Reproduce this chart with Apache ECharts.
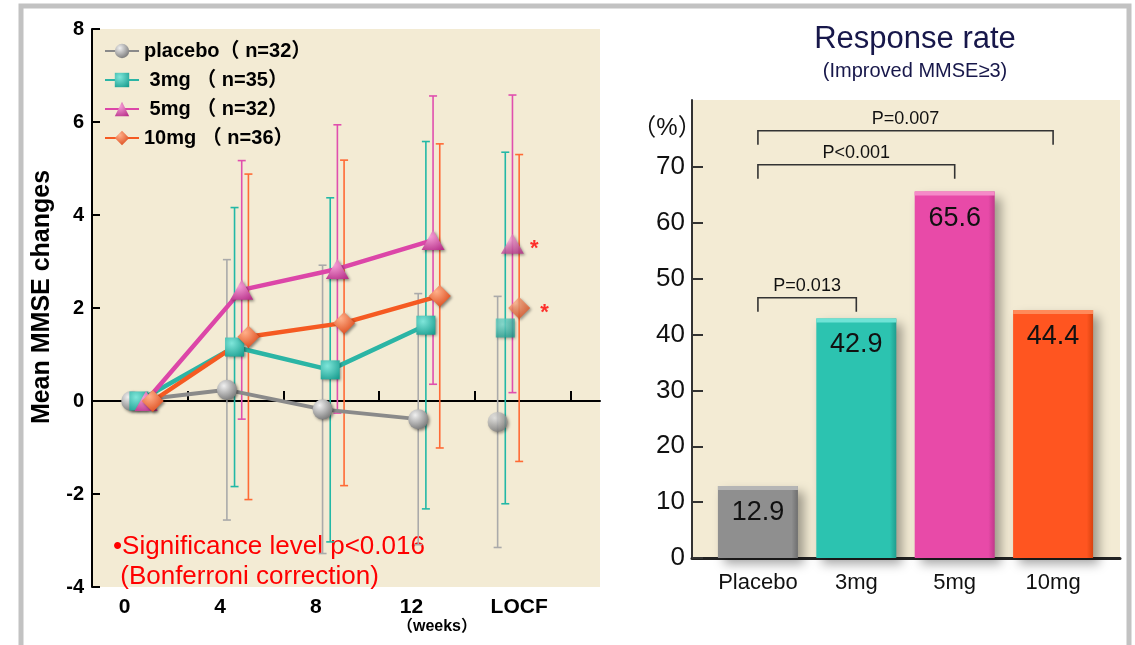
<!DOCTYPE html>
<html>
<head>
<meta charset="utf-8">
<script src="https://cdn.jsdelivr.net/npm/echarts@6/dist/echarts.min.js"></script>
<style>
  html, body { margin: 0; padding: 0; background: #fff; }
  #chart { width: 1135px; height: 645px; }
</style>
</head>
<body>
<div id="chart"></div>
<script>
// ---------- DATA ----------
const weeks = ['0', '4', '8', '12', 'LOCF'];
const groupNames = ['placebo（ n=32）', ' 3mg （ n=35）', ' 5mg （ n=32）', '10mg （ n=36）'];
const placeboMean = [0, 0.24, -0.18, -0.39, -0.45];
const placeboSD   = [0, 2.8, 3.1, 2.7, 2.7];
const mg3Mean  = [0, 1.16, 0.67, 1.63, 1.57];
const mg3SD    = [0, 3.0, 3.7, 3.95, 3.78];
const mg5Mean  = [0, 2.39, 2.84, 3.46, 3.38];
const mg5SD    = [0, 2.78, 3.1, 3.1, 3.2];
const mg10Mean = [0, 1.38, 1.68, 2.26, 2.0];
const mg10SD   = [0, 3.5, 3.5, 3.27, 3.3];
const locfSignificant = [false, false, true, true];

const respCats = ['Placebo', '3mg', '5mg', '10mg'];
const respRate = [12.9, 42.9, 65.6, 44.4];
const respTicks = [0, 10, 20, 30, 40, 50, 60, 70];
const compFrom  = [0, 0, 0];
const compTo    = [1, 2, 3];
const compLabel = ['P=0.013', 'P<0.001', 'P=0.007'];
const compLevel = [46.6, 70.4, 76.5];

// ---------- STYLE / LAYOUT ----------
const FONT = 'Arial, "Liberation Sans", "Noto Sans CJK SC", sans-serif';
const means = [placeboMean, mg3Mean, mg5Mean, mg10Mean];
const sds = [placeboSD, mg3SD, mg5SD, mg10SD];
const dodge = [0.41, 0.49, 0.565, 0.635];
const locfShift = -0.17;
const labelShift = 0.34;
const lineColors = ['#8a8a8a', '#2bb5a5', '#dc46a8', '#f55a22'];
const errColors = ['#aaaaaa', '#22b8a6', '#e04fae', '#ff6a35'];
const symbols = ['circle', 'rect', 'triangle', 'diamond'];
const symbolSizes = [20, 19, [23, 20], 22];
const gradStops = [
  ['#f0f0f0', '#6a6a6a'],
  ['#7fe6da', '#1a9e90'],
  ['#f6a0d6', '#b8308a'],
  ['#ffb08a', '#d94010']
];
const barColors = ['#8f8f8f', '#2cc3b0', '#e84aa8', '#ff5520'];
const barDark = ['#6f6f6f', '#1f9d8e', '#c0388a', '#d8430f'];
const barLight = ['#b5b5b5', '#6fe3d6', '#f58ac8', '#ff8a5a'];

function markerColor(g) {
  return new echarts.graphic.RadialGradient(0.35, 0.3, 0.85, [
    { offset: 0, color: gradStops[g][0] },
    { offset: 1, color: gradStops[g][1] }
  ]);
}

const series = [];
for (let g = 0; g < 4; g++) {
  const errData = [];
  for (let i = 0; i < weeks.length; i++) {
    if (sds[g][i] > 0) {
      const x = i + dodge[g] + (i === weeks.length - 1 ? locfShift : 0);
      errData.push([x, means[g][i] - sds[g][i], means[g][i] + sds[g][i]]);
    }
  }
  series.push({
    type: 'custom', xAxisIndex: 0, yAxisIndex: 0, z: 1, clip: true,
    silent: true,
    data: errData,
    encode: { x: 0, y: [1, 2] },
    renderItem: (function (col) {
      return function (params, api) {
        const x = api.value(0);
        const top = api.coord([x, api.value(2)]);
        const bot = api.coord([x, api.value(1)]);
        const cw = 4;
        const st = { stroke: col, lineWidth: 1.6 };
        return {
          type: 'group',
          children: [
            { type: 'line', shape: { x1: top[0], y1: top[1], x2: bot[0], y2: bot[1] }, style: st },
            { type: 'line', shape: { x1: top[0] - cw, y1: top[1], x2: top[0] + cw, y2: top[1] }, style: st },
            { type: 'line', shape: { x1: bot[0] - cw, y1: bot[1], x2: bot[0] + cw, y2: bot[1] }, style: st }
          ]
        };
      };
    })(errColors[g])
  });
  const itemStyle = {
    color: markerColor(g),
    shadowBlur: 3, shadowColor: 'rgba(0,0,0,0.45)', shadowOffsetX: 1.5, shadowOffsetY: 1.5
  };
  series.push({
    name: groupNames[g], type: 'line', xAxisIndex: 0, yAxisIndex: 0, z: 3,
    data: means[g].slice(0, weeks.length - 1).map((m, i) => [i + dodge[g], m]),
    symbol: symbols[g], symbolSize: symbolSizes[g],
    lineStyle: { color: lineColors[g], width: g === 0 ? 4 : 4.5 },
    itemStyle: itemStyle,
    silent: true
  });
  const li = weeks.length - 1;
  series.push({
    name: groupNames[g], type: 'scatter', xAxisIndex: 0, yAxisIndex: 0, z: 3,
    data: [[li + dodge[g] + locfShift, means[g][li]]],
    symbol: symbols[g], symbolSize: symbolSizes[g],
    itemStyle: itemStyle,
    silent: true,
    label: {
      show: locfSignificant[g], position: 'right', distance: g === 3 ? 10 : 6,
      formatter: '*', color: '#ff0000', fontSize: 22, fontWeight: 'bold',
      fontFamily: FONT, offset: [0, 5]
    }
  });
}

series.push({
  type: 'bar', xAxisIndex: 2, yAxisIndex: 1, barWidth: 80, z: 2, silent: true,
  data: respRate.map((v, i) => ({
    value: [i, v],
    itemStyle: {
      color: new echarts.graphic.LinearGradient(0, 0, 1, 0, [
        { offset: 0, color: barColors[i] },
        { offset: 0.92, color: barColors[i] },
        { offset: 1, color: barDark[i] }
      ]),
      shadowBlur: 10, shadowColor: 'rgba(0,0,0,0.35)', shadowOffsetX: 6, shadowOffsetY: 6
    }
  })),
  label: {
    show: true, position: 'insideTop', distance: 13,
    formatter: p => p.value[1].toFixed(1),
    fontFamily: FONT, fontSize: 27, color: '#111'
  }
});
series.push({
  type: 'custom', xAxisIndex: 2, yAxisIndex: 1, z: 3, silent: true,
  data: respRate.map((v, i) => [i, v]),
  renderItem: function (params, api) {
    const p = api.coord([api.value(0), api.value(1)]);
    const i = params.dataIndex;
    return { type: 'rect', shape: { x: p[0] - 40, y: p[1], width: 80, height: 4 },
      style: { fill: barLight[i] } };
  }
});
series.push({
  type: 'custom', xAxisIndex: 2, yAxisIndex: 1, z: 4, silent: true,
  data: compFrom.map((f, i) => [f, compTo[i], compLevel[i]]),
  encode: { x: [0, 1], y: 2 },
  renderItem: function (params, api) {
    const a = api.coord([api.value(0), api.value(2)]);
    const b = api.coord([api.value(1), api.value(2)]);
    const leg = 14;
    const st = { stroke: '#333', lineWidth: 1.6, fill: null };
    return {
      type: 'group',
      children: [
        { type: 'polyline', shape: { points: [[a[0], a[1] + leg], [a[0], a[1]], [b[0], b[1]], [b[0], b[1] + leg]] }, style: st },
        { type: 'text', x: (a[0] + b[0]) / 2, y: a[1] - 3,
          style: { text: compLabel[params.dataIndex], align: 'center', verticalAlign: 'bottom',
            font: '18px ' + FONT, fill: '#111' } }
      ]
    };
  }
});

const option = {
  animation: false,
  backgroundColor: '#ffffff',
  title: [{
    text: 'Response rate', subtext: '(Improved MMSE≥3)',
    left: 910, top: 19, textAlign: 'center', itemGap: 6,
    textStyle: { fontFamily: FONT, fontSize: 31, fontWeight: 'normal', color: '#17174a' },
    subtextStyle: { fontFamily: FONT, fontSize: 20, color: '#17174a' }
  }],
  legend: {
    data: groupNames, orient: 'vertical', left: 104, top: 41, padding: 0,
    itemWidth: 34, itemHeight: 18, itemGap: 9, selectedMode: false,
    textStyle: { fontFamily: FONT, fontSize: 20, fontWeight: 'bold', color: '#000', padding: [0, 0, 0, 0] }
  },
  grid: [
    { left: 92, top: 29, width: 508, height: 558, show: true, backgroundColor: '#F3EBD4', borderWidth: 0 },
    { left: 692, top: 100, width: 428, height: 458, show: true, backgroundColor: '#F3EBD4', borderWidth: 0 }
  ],
  xAxis: [
    { gridIndex: 0, type: 'value', min: 0, max: 5.31,
      axisLine: { onZero: true, lineStyle: { color: '#000', width: 2 } },
      axisTick: { show: true, inside: true, length: 10, customValues: [1, 2, 3, 4, 5], lineStyle: { color: '#000', width: 2 } },
      axisLabel: { show: false }, splitLine: { show: false } },
    { gridIndex: 0, type: 'value', position: 'bottom', min: 0, max: 5.31,
      axisLine: { show: false, onZero: false }, axisTick: { show: false }, splitLine: { show: false },
      axisLabel: {
        customValues: weeks.map((w, i) => i + labelShift),
        formatter: function (v) {
          const i = Math.round(v - labelShift);
          return i === weeks.length - 1 ? '{l|' + weeks[i] + '}' : weeks[i];
        },
        fontFamily: FONT, fontSize: 21, fontWeight: 'bold', color: '#000', margin: 10,
        rich: { l: { fontFamily: FONT, fontSize: 21, fontWeight: 'bold', color: '#000', padding: [0, 0, 0, 24] } }
      } },
    { gridIndex: 1, type: 'value', min: -0.67, max: 3.68,
      axisLine: { onZero: false, lineStyle: { color: '#222', width: 3 } },
      axisTick: { show: false }, splitLine: { show: false },
      axisLabel: { customValues: respCats.map((c, i) => i), formatter: v => respCats[Math.round(v)],
        fontFamily: FONT, fontSize: 22, color: '#111', margin: 14 } }
  ],
  yAxis: [
    { gridIndex: 0, type: 'value', min: -4, max: 8, interval: 2,
      axisLine: { show: true, onZero: false, lineStyle: { color: '#000', width: 2 } },
      axisTick: { show: true, inside: true, length: 8, lineStyle: { color: '#000', width: 2 } },
      axisLabel: { fontFamily: FONT, fontSize: 20, fontWeight: 'bold', color: '#000', margin: 8 },
      splitLine: { show: false },
      name: 'Mean MMSE changes', nameLocation: 'middle', nameGap: 37,
      nameTextStyle: { fontFamily: FONT, fontSize: 25, fontWeight: 'bold', color: '#000', padding: [0, 0, 0, 22] } },
    { gridIndex: 1, type: 'value', min: 0, max: 82, interval: 10,
      axisLine: { show: true, onZero: false, lineStyle: { color: '#333', width: 2 } },
      axisTick: { show: true, inside: true, length: 11, customValues: respTicks, lineStyle: { color: '#333', width: 2 } },
      axisLabel: { customValues: respTicks, fontFamily: FONT, fontSize: 26, color: '#111', margin: 7 },
      splitLine: { show: false } }
  ],
  graphic: [
    { type: 'polyline', silent: true, z: 100,
      shape: { points: [[21, 645], [21, 6], [1129, 6], [1129, 645]] },
      style: { stroke: '#c2c2c2', lineWidth: 5, fill: null } },
    { type: 'text', left: 113, top: 532, silent: true,
      style: { text: '•Significance level p<0.016\n (Bonferroni correction)', font: '26px ' + FONT,
        fill: '#ff0000', lineHeight: 30 } },
    { type: 'text', x: 437, y: 627, silent: true,
      style: { text: '（weeks）', font: 'bold 16px ' + FONT, fill: '#000', align: 'center', verticalAlign: 'middle' } },
    { type: 'text', x: 667, y: 128, silent: true,
      style: { text: '（%）', font: '24px ' + FONT, fill: '#111', align: 'center', verticalAlign: 'middle' } }
  ],
  series: series
};

const chart = echarts.init(document.getElementById('chart'), null, { renderer: 'canvas' });
chart.setOption(option);
</script>
</body>
</html>
